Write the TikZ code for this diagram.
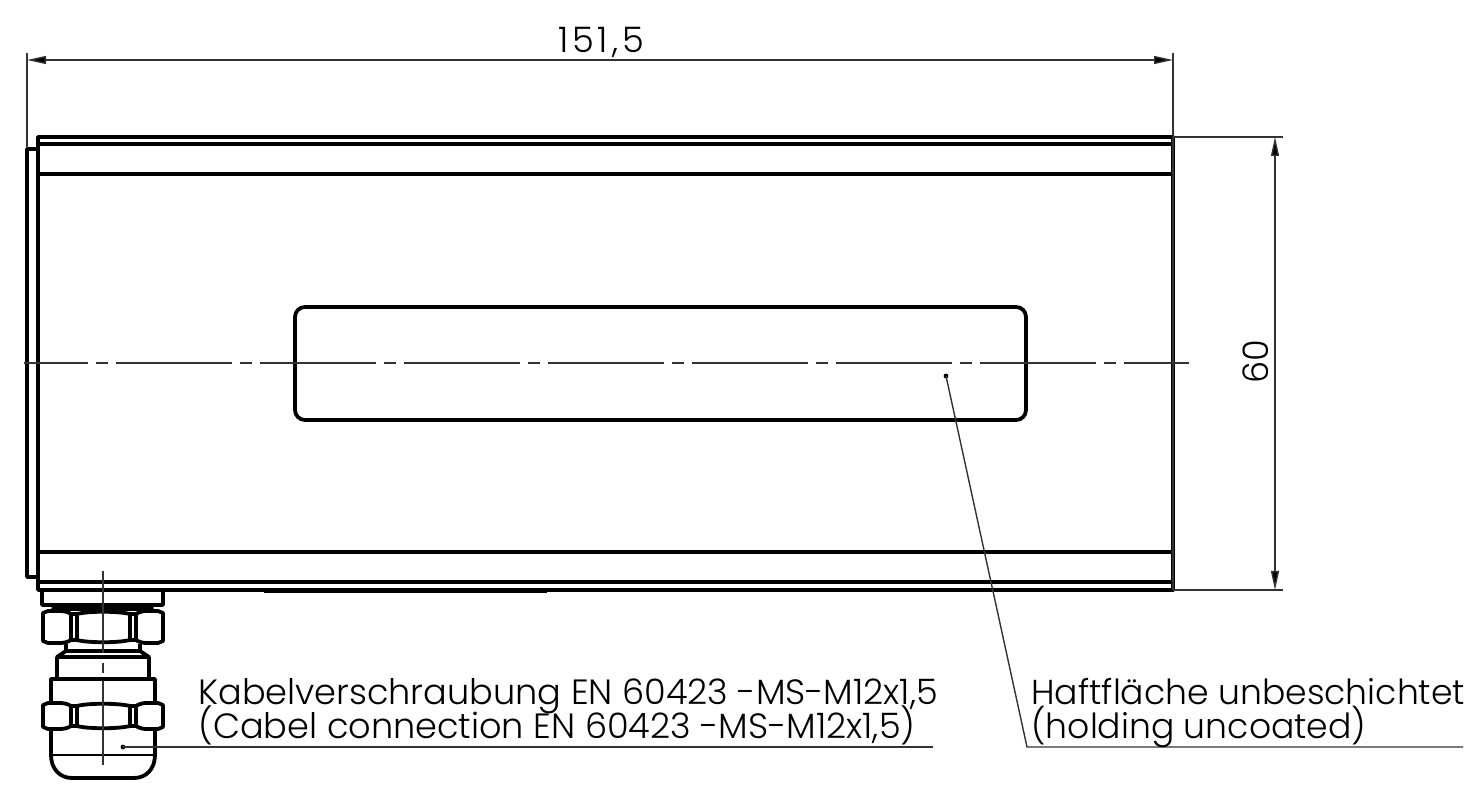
\documentclass[tikz,border=0pt]{standalone}
\usepackage{fontspec}
\usetikzlibrary{arrows.meta}
\setmainfont{Poppins Light}
\tikzset{
    body/.style={line width=1.9pt, line join=round},
    thin line/.style={line width=0.7pt, draw=black!80},
    center line/.style={line width=0.7pt, draw=black!80, dash pattern=on 58pt off 4pt on 6pt off 4pt, dash phase=26pt},
    dim line/.style={line width=0.7pt, draw=black!80, {Triangle[length=9.5pt,width=4pt,fill=black]}-{Triangle[length=9.5pt,width=4pt,fill=black]}},
    label text/.style={anchor=base west, inner sep=0pt, font=\fontsize{17.55}{20}\selectfont},
    right text/.style={anchor=base west, inner sep=0pt, font=\fontsize{17.3}{20}\selectfont},
    dim text/.style={inner sep=0pt, font=\fontsize{17.6}{20}\selectfont},
}

\begin{document}
\begin{tikzpicture}[x=0.5pt,y=-0.5pt]
        \useasboundingbox (0,0) rectangle (1483,795);

        % named points
        \coordinate (LT) at (27,53);
        \coordinate (LB) at (27,148);
        \coordinate (RT) at (1173,53);
        \coordinate (RB) at (1173,590);
        \coordinate (WL) at (27,60);
        \coordinate (WR) at (1173,60);
        \coordinate (HT) at (1275,137);
        \coordinate (HB) at (1275,590);
        \coordinate (HTa) at (1173,137);
        \coordinate (HTb) at (1283,137);
        \coordinate (HBa) at (1173,590);
        \coordinate (HBb) at (1283,590);
        \coordinate (Pa) at (123,747);
        \coordinate (Pb) at (933,747);
        \coordinate (Qa) at (946,376);
        \coordinate (Qb) at (1027,747);
        \coordinate (Qc) at (1463,747);

        % housing
        \draw[body] (38,137) rectangle (1173,590);
        \draw[body] (38,144) -- (1173,144);
        \draw[body] (38,174) -- (1173,174);
        \draw[body] (38,552) -- (1173,552);
        \draw[body] (38,582) -- (1173,582);
        \draw[body] (38,149) -- (27,149) -- (27,577) -- (38,577);
        \draw[body, rounded corners=5pt] (295,307) rectangle (1026,420);
        \fill (264,589) rectangle (547,593);

        % gland
        \draw[body] (42,590) -- (42,605) -- (163,605) -- (163,590);
        \draw[body] (55,605) -- (53,609) -- (152,609) -- (150,605);
        \foreach \ny/\nb in {609/645, 701/731} {
            \draw[body] (43,\ny+4) -- (48,\ny+2) -- (60,\ny+2) .. controls (64,\ny+2) and (68,\ny+3) .. (71,\ny+5)
                -- (77,\ny+5) .. controls (88,\ny+2) and (118,\ny+2) .. (130,\ny+5)
                -- (136,\ny+5) .. controls (139,\ny+3) and (143,\ny+2) .. (146,\ny+2) -- (158,\ny+2) -- (163,\ny+4)
                -- (163,\nb-4) -- (158,\nb-2) -- (146,\nb-2) .. controls (143,\nb-2) and (139,\nb-3) .. (136,\nb-5)
                -- (130,\nb-5) .. controls (118,\nb-2) and (88,\nb-2) .. (77,\nb-5)
                -- (71,\nb-5) .. controls (68,\nb-3) and (64,\nb-2) .. (60,\nb-2) -- (48,\nb-2) -- (43,\nb-4) -- cycle;
            \draw[body] (71,\ny+5) -- (71,\nb-5);
            \draw[body] (77,\ny+5) -- (77,\nb-5);
            \draw[body] (130,\ny+5) -- (130,\nb-5);
            \draw[body] (136,\ny+5) -- (136,\nb-5);
        }
        \draw[body] (66,644) -- (66,651) -- (140,651) -- (140,644);
        \draw[body] (66,651) -- (57,657) -- (149,657) -- (140,651);
        \draw[body] (57,657) -- (57,679);
        \draw[body] (149,657) -- (149,679);
        \draw[body] (51,702) -- (51,679) -- (155,679) -- (155,702);
        \draw[body] (51,729) -- (51,755) .. controls (51,769) and (60,778) .. (72,778) -- (134,778)
            .. controls (146,778) and (155,769) .. (155,755) -- (155,729);
        \draw[line width=1pt] (51,755) -- (155,755);

        % center lines
        \draw[center line] (24,363) -- (1189,363);
        \draw[thin line] (103,571) -- (103,653);
        \draw[thin line] (103,663) -- (103,673);
        \draw[thin line] (103,681) -- (103,765);

        % dimensions
        \draw[thin line] (LT) -- (LB);
        \draw[thin line] (RT) -- (RB);
        \draw[thin line] (HTa) -- (HTb);
        \draw[thin line] (HBa) -- (HBb);
        \draw[dim line] (WL) -- (WR);
        \draw[dim line] (HT) -- (HB);
        \node[dim text] at (601,42) (wd) {\addfontfeature{LetterSpace=11}151,5};
        \node[dim text, rotate=90] at (1256,362) (ht) {60};

        % leaders
        \fill (Pa) circle (1.2pt);
        \fill (Qa) circle (1.2pt);
        \draw[thin line] (Pa) -- (Pb);
        \draw[thin line] (Qa) -- (Qb) -- (Qc);
        \node[label text] at (198,705) (kde) {Kabelverschraubung EN 60423 -MS-M12x1,5};
        \node[label text] at (198,739) (ken) {(Cabel connection EN 60423 -MS-M12x1,5)};
        \node[right text] at (1031,705) (hde) {Haftfläche unbeschichtet};
        \node[right text] at (1031,739) (hen) {(holding uncoated)};

    \end{tikzpicture}
\end{document}
